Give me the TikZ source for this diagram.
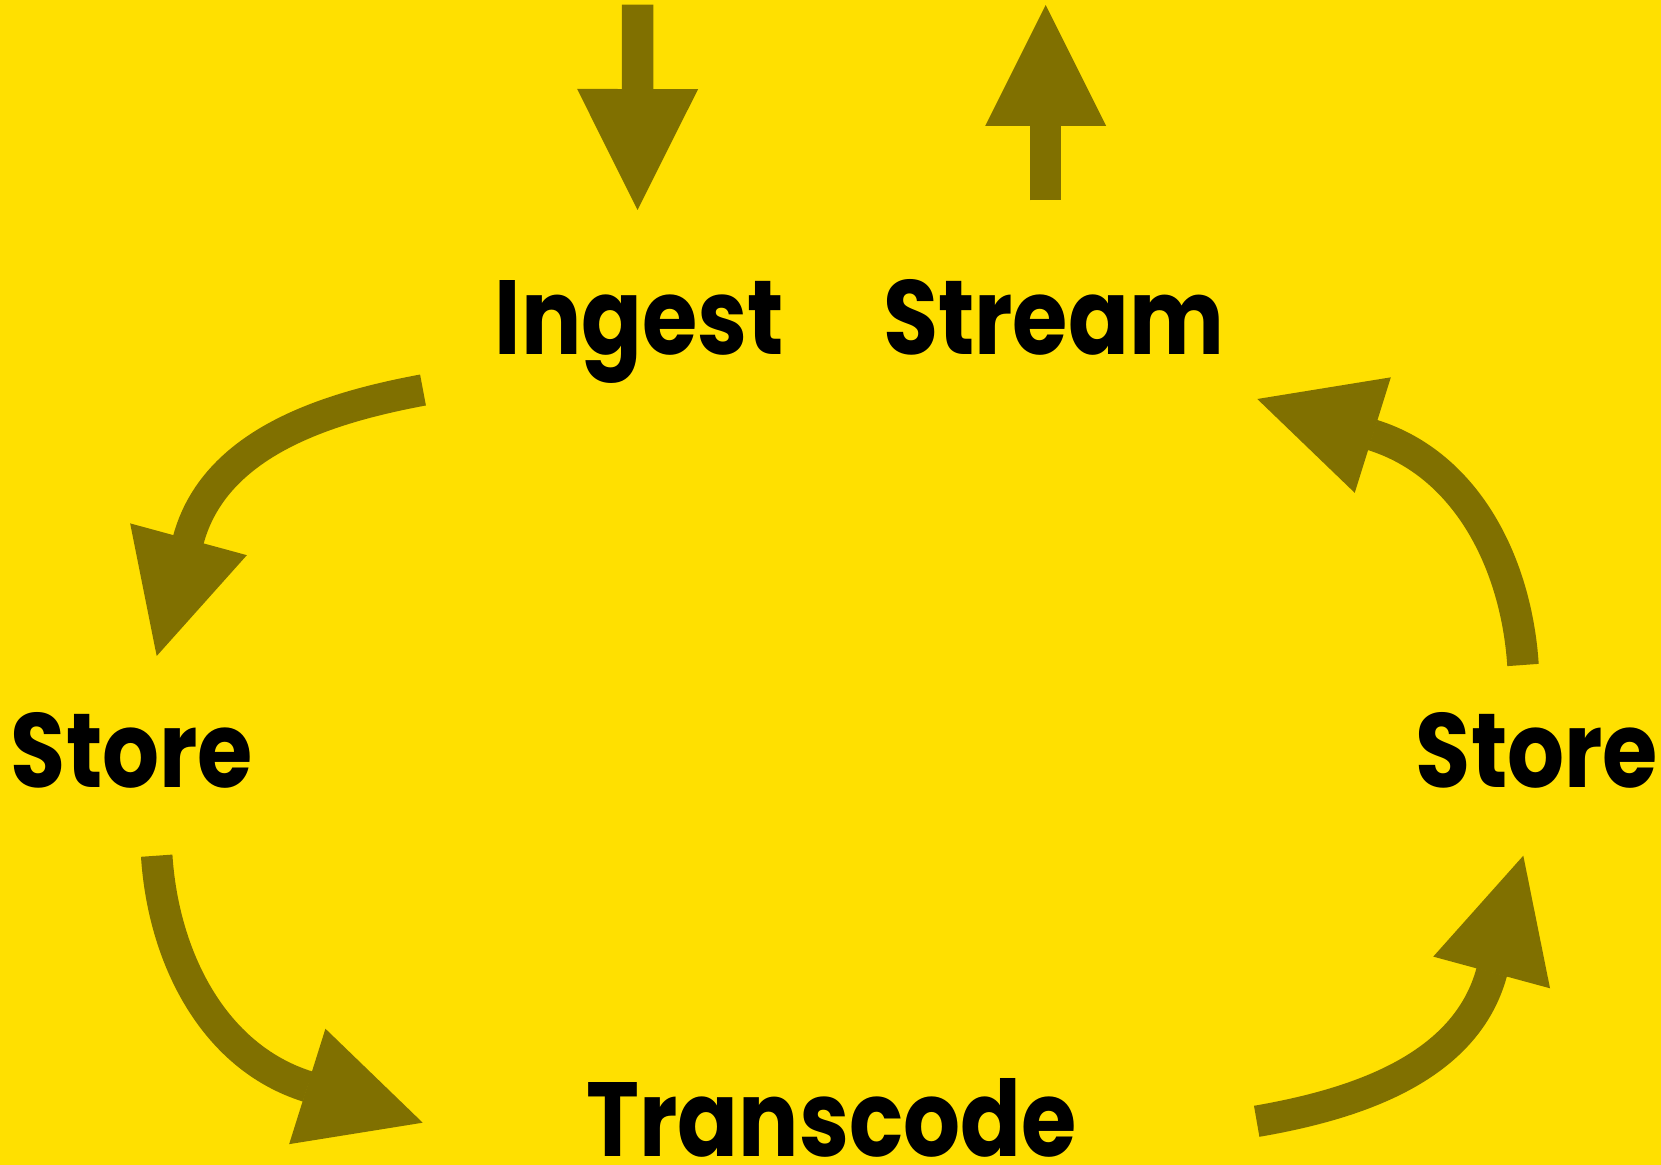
\documentclass[tikz,border=0pt]{standalone}
\usepackage{fontspec}
\setmainfont{Poppins}[FakeStretch=0.85]
\usetikzlibrary{arrows.meta}
\definecolor{bgyellow}{RGB}{255,224,0}
\definecolor{flowolive}{RGB}{128,112,0}

\begin{document}
\begin{tikzpicture}[x=0.02cm,y=-0.02cm,
  stagetext/.style={font=\fontsize{60}{60}\selectfont\bfseries, inner sep=0pt, anchor=base, text=black},
  flow/.style={draw=flowolive, line width=0.63cm, line cap=butt,
    -{Triangle[length=2.42cm,width=2.42cm,line width=0pt]}}]

  % background
  \fill[bgyellow] (0,0) rectangle (1661,1165);
  \useasboundingbox (0,0) rectangle (1661,1165);

  % stage labels
  \node[stagetext] (ingest)    at (639.5,355)  {Ingest};
  \node[stagetext] (stream)    at (1053.5,355) {Stream};
  \node[stagetext] (storeL)    at (132,787)    {Store};
  \node[stagetext] (storeR)    at (1537,787)   {Store};
  \node[stagetext] (transcode) at (831.5,1156) {Transcode};

  % arrow end points
  \coordinate (inTop)  at (637.7,4.7);
  \coordinate (inTip)  at (637.5,210);
  \coordinate (outTop) at (1045.7,5);
  \coordinate (outBot) at (1045.7,200.3);

  \coordinate (a1s) at (423,390);     \coordinate (a1b) at (188.3,540);   \coordinate (a1t) at (156.7,656);
  \coordinate (a2s) at (1523,665);    \coordinate (a2b) at (1372.5,435);  \coordinate (a2t) at (1257.3,399);
  \coordinate (a3s) at (156.7,855.7); \coordinate (a3b) at (307.5,1086.5); \coordinate (a3t) at (422.7,1122.7);
  \coordinate (a4s) at (1256.7,1121.3); \coordinate (a4b) at (1491.7,972.2); \coordinate (a4t) at (1523.3,855.7);

  % input and output
  \draw[flow] (inTop) -- (inTip);
  \draw[flow] (outBot) -- (outTop);

  % the cycle
  \draw[flow] (a1s) .. controls (324.7,408.3) and (214.3,443.5) .. (a1b) -- (a1t);
  \draw[flow] (a3s) .. controls (163.1,955.7) and (212.1,1056.5) .. (a3b) -- (a3t);
  \draw[flow] (a4s) .. controls (1355.2,1104.3) and (1465.5,1068.7) .. (a4b) -- (a4t);
  \draw[flow] (a2s) .. controls (1516.5,565) and (1467.9,464.8) .. (a2b) -- (a2t);
\end{tikzpicture}
\end{document}
